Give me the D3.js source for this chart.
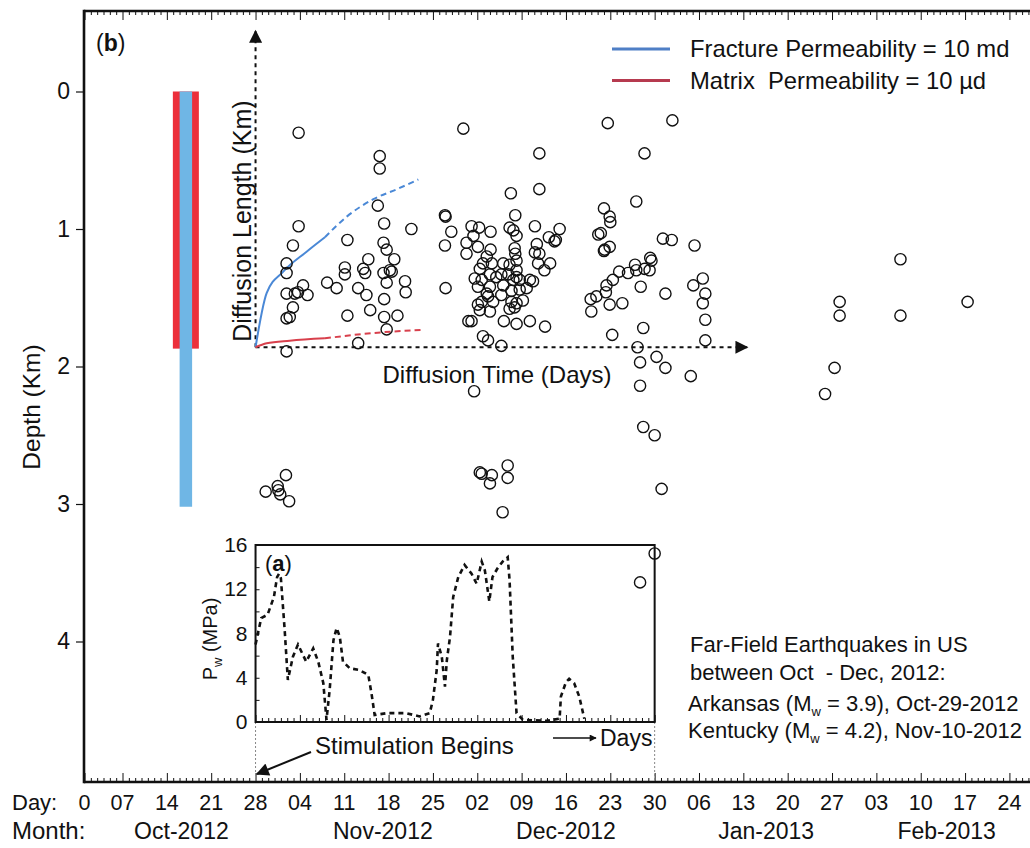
<!DOCTYPE html>
<html><head><meta charset="utf-8">
<script src="https://cdn.jsdelivr.net/npm/d3@7"></script>
<style>
body{margin:0;background:#fff;}
svg{display:block;}
text{font-family:"Liberation Sans", Arial, Helvetica, sans-serif; fill:#111;}
</style></head>
<body><svg id="chart" width="1030" height="848"></svg>
<script>
// ---------- DATA ----------
// Day axis: day index counted from Oct-1-2012
const dayTickDays   = [0,6,13,20,27,34,41,48,55,62,69,76,83,90,97,104,111,118,125,132,139,146];
const dayTickLabels = ["0","07","14","21","28","04","11","18","25","02","09","16","23","30","06","13","20","27","03","10","17","24"];
const monthLabels   = ["Oct-2012","Nov-2012","Dec-2012","Jan-2013","Feb-2013"];
const monthLabelDays= [15.3,47.1,76.0,107.6,136.1];
const depthTicks    = [0,1,2,3,4];
const pwTicks       = [0,4,8,12,16];

// well intervals (depth km)
const wellNames  = ["Matrix interval","Fracture interval"];
const wellTop    = [0,0];
const wellBottom = [1.87,3.02];

// microseismic events: day index and depth (km)
const quakeDay = [33.8,46.6,46.6,51.6,46.3,47.3,33.8,32.9,41.5,31.9,31.9,44.8,41.1,41.1,44.0,44.3,47.2,47.7,48.9,48.2,48.5,47.2,47.7,50.6,50.7,38.3,39.8,43.2,44.5,31.9,33.2,33.7,34.5,35.2,32.9,31.9,32.4,47.3,45.1,41.5,47.3,49.4,47.7,43.2,31.9,
59.8,82.6,71.8,88.4,67.3,71.8,87.1,56.9,57.0,57.9,56.9,57.0,68.0,61.1,62.3,61.4,60.3,62.1,60.3,64.1,67.1,67.7,68.2,71.1,71.4,73.3,74.2,75.0,74.4,71.1,71.8,71.6,73.5,72.6,67.9,68.0,64.1,63.5,62.9,64.3,62.4,66.1,67.1,68.2,68.2,61.6,62.7,64.0,65.0,65.8,66.9,68.2,70.3,70.8,66.1,67.7,68.7,64.0,62.1,65.8,67.4,68.7,69.8,63.5,63.7,62.7,62.1,64.5,67.4,68.2,69.2,67.9,67.1,62.4,64.0,61.1,66.2,68.2,70.3,72.7,62.9,63.7,65.8,60.6,
92.8,82.0,82.9,83.0,81.1,81.5,82.0,82.1,82.9,91.3,92.7,96.3,89.3,89.5,86.9,88.4,89.2,87.1,85.8,84.4,83.4,82.4,82.3,80.8,79.9,80.0,82.9,84.9,87.8,91.7,96.1,97.6,98.0,97.6,98.0,98.0,83.3,88.2,87.3,90.3,87.7,91.7,95.7,87.7,
119.2,119.2,118.4,116.9,128.8,128.8,139.4,61.5,88.2,90.0,91.1,31.8,28.6,30.5,30.6,30.9,32.3,62.4,62.7,64.3,64.0,66.8,66.8,66.0,87.7,90.0];
const quakeDepth = [0.30,0.47,0.56,1.00,0.83,0.96,0.98,1.12,1.08,1.25,1.32,1.22,1.28,1.33,1.29,1.32,1.10,1.15,1.22,1.30,1.31,1.32,1.39,1.38,1.46,1.39,1.43,1.43,1.48,1.47,1.47,1.46,1.41,1.48,1.57,1.65,1.64,1.51,1.59,1.63,1.64,1.63,1.73,1.83,1.89,
0.27,0.23,0.45,0.45,0.74,0.71,0.80,0.90,0.91,1.02,1.12,1.43,0.90,0.98,0.99,1.05,1.10,1.13,1.18,1.02,0.99,1.01,1.05,0.98,1.11,1.06,1.09,1.00,1.08,1.17,1.18,1.25,1.25,1.30,1.14,1.18,1.15,1.20,1.25,1.25,1.29,1.25,1.26,1.23,1.30,1.36,1.37,1.33,1.35,1.33,1.33,1.35,1.37,1.38,1.41,1.37,1.37,1.42,1.42,1.48,1.45,1.44,1.43,1.47,1.49,1.53,1.55,1.53,1.53,1.54,1.52,1.57,1.58,1.59,1.60,1.67,1.67,1.69,1.67,1.71,1.78,1.81,1.85,1.67,
0.21,0.85,0.91,0.95,1.04,1.03,1.16,1.15,1.13,1.07,1.08,1.12,1.21,1.23,1.26,1.29,1.30,1.30,1.32,1.31,1.37,1.41,1.46,1.49,1.51,1.60,1.55,1.54,1.42,1.47,1.41,1.36,1.47,1.54,1.66,1.81,1.77,1.72,1.86,1.93,1.97,2.01,2.07,2.14,
1.53,1.63,2.01,2.20,1.22,1.63,1.53,2.18,2.44,2.50,2.89,2.79,2.91,2.87,2.90,2.93,2.98,2.77,2.78,2.79,2.85,2.72,2.81,3.06,3.57,3.36];

// diffusion curves: time since stimulation (days), diffusion length (km)
const diffOriginDay = 27, diffOriginDepth = 1.86;
const fracSolidT  = [0,1.75,4.37,8.06,10.95];
const fracSolidL  = [0,0.393,0.55,0.695,0.80];
const fracDashT   = [10.95,14.4,18.6,22.3,25.7];
const fracDashL   = [0.80,0.95,1.077,1.149,1.22];
const matSolidT   = [0,1.75,5.4,10.95];
const matSolidL   = [0,0.029,0.048,0.065];
const matDashT    = [10.95,20.0,26.5];
const matDashL    = [0.065,0.109,0.126];

// injection pressure (inset a): day index and Pw (MPa)
const pwDay = [27.0,27.9,28.9,29.9,30.4,30.7,31.0,31.6,32.1,32.9,33.7,35.0,36.1,36.9,37.7,38.2,38.7,39.3,39.8,40.3,40.8,41.9,43.4,44.8,45.3,45.8,47.7,50.8,52.9,54.5,55.0,55.6,55.8,56.4,56.9,57.2,57.7,58.2,59.0,60.0,61.1,61.9,62.7,63.2,63.9,64.4,65.2,66.0,66.8,67.1,67.6,68.2,69.2,72.9,75.0,75.2,76.0,76.5,77.3,78.1,78.9];
const pwMPa = [7.0,9.4,9.7,11.3,13.1,13.4,13.0,8.3,3.8,5.9,7.0,5.45,6.66,5.45,3.5,0.2,2.9,7.4,8.5,7.7,5.45,4.85,4.7,4.25,2.6,0.63,0.8,0.8,0.5,0.8,2.0,4.7,7.1,5.9,3.2,5.6,7.7,11.3,13.1,14.2,13.4,12.5,14.5,13.7,10.9,13.1,13.9,14.5,14.9,12.8,5.9,0.8,0.2,0.1,0.3,2.3,3.6,3.9,3.5,2.3,0.3];
const insetDays = [27,90];

// ---------- CHART ----------
const svg = d3.select("#chart");
const x = d3.scaleLinear().domain([0,149.25]).range([84.5,1030]);
const y = d3.scaleLinear().domain([0,4]).range([91.5,641.5]);
const yTop = 11, yBot = 782, xLeft = 84;
const majorSet = new Set(dayTickDays);
const allDays = d3.range(0,150);
const minorDays = allDays.filter(d=>!majorSet.has(d));

const defs = svg.append("defs");
defs.append("marker").attr("id","arr").attr("viewBox","0 0 10 10").attr("refX",9).attr("refY",5)
  .attr("markerWidth",15).attr("markerHeight",13).attr("markerUnits","userSpaceOnUse").attr("orient","auto")
  .append("path").attr("d","M0,0 L10,5 L0,10 Z").attr("fill","#111");
defs.append("marker").attr("id","arrS").attr("viewBox","0 0 10 10").attr("refX",9).attr("refY",5)
  .attr("markerWidth",9).attr("markerHeight",7).attr("markerUnits","userSpaceOnUse").attr("orient","auto")
  .append("path").attr("d","M0,0 L10,5 L0,10 Z").attr("fill","#111");

// well bars
const wellColors = ["#ec2f3b","#6fb6e5"];
const wellWidths = [26,12.5];
const wellDay = 16;
svg.append("g").selectAll("rect").data(wellNames).join("rect")
  .attr("x",(d,i)=>x(wellDay)-wellWidths[i]/2).attr("width",(d,i)=>wellWidths[i])
  .attr("y",(d,i)=>y(wellTop[i])).attr("height",(d,i)=>y(wellBottom[i])-y(wellTop[i]))
  .attr("fill",(d,i)=>wellColors[i]);

// frame & axes
function tickAxis(axisFn, yPos, values, size){
  svg.append("g").attr("transform",`translate(0,${yPos})`)
    .call(axisFn(x).tickValues(values).tickSize(size).tickFormat(""))
    .call(g=>g.select(".domain").remove())
    .selectAll("line").attr("stroke","#111").attr("stroke-width",1);
}
tickAxis(d3.axisBottom, yTop, minorDays, 4);
tickAxis(d3.axisBottom, yTop, dayTickDays, 9);
tickAxis(d3.axisTop, yBot, minorDays, 4);
tickAxis(d3.axisTop, yBot, dayTickDays, 9);
svg.append("line").attr("x1",xLeft).attr("x2",1030).attr("y1",yTop).attr("y2",yTop).attr("stroke","#111").attr("stroke-width",2.4);
svg.append("line").attr("x1",xLeft).attr("x2",1030).attr("y1",yBot).attr("y2",yBot).attr("stroke","#111").attr("stroke-width",2.4);
svg.append("line").attr("x1",xLeft).attr("x2",xLeft).attr("y1",yTop-1.2).attr("y2",yBot+1.2).attr("stroke","#111").attr("stroke-width",2.6);

const yAx = svg.append("g").attr("transform",`translate(${xLeft},0)`)
  .call(d3.axisLeft(y).tickValues(depthTicks).tickSize(8).tickPadding(6).tickFormat(d3.format("d")));
yAx.select(".domain").remove();
yAx.attr("font-family",null).attr("font-size",23);
yAx.selectAll("line").attr("stroke","#111").attr("stroke-width",1.2);
yAx.selectAll("text").attr("fill","#111");

svg.append("text").attr("transform","translate(40,407) rotate(-90)").attr("text-anchor","middle")
  .attr("font-size",24.5).text("Depth (Km)");

// day / month labels
svg.append("g").selectAll("text").data(dayTickDays).join("text")
  .attr("x",d=>x(d)).attr("y",810).attr("text-anchor","middle").attr("font-size",21.5)
  .text((d,i)=>dayTickLabels[i]);
svg.append("text").attr("x",12).attr("y",810).attr("font-size",22).text("Day:");
svg.append("g").selectAll("text").data(monthLabelDays).join("text")
  .attr("x",d=>x(d)).attr("y",839).attr("text-anchor","middle").attr("font-size",23)
  .text((d,i)=>monthLabels[i]);
svg.append("text").attr("x",12).attr("y",839).attr("font-size",24).text("Month:");

// (b)
const bl = svg.append("text").attr("x",96).attr("y",51).attr("font-size",23);
bl.append("tspan").text("(");
bl.append("tspan").attr("font-weight","bold").text("b");
bl.append("tspan").text(")");

// diffusion axes
const ox = x(diffOriginDay), oy = y(diffOriginDepth);
svg.append("line").attr("x1",ox).attr("y1",oy).attr("x2",ox).attr("y2",y(-0.44))
  .attr("stroke","#111").attr("stroke-width",2).attr("stroke-dasharray","4,4").attr("marker-end","url(#arr)");
svg.append("line").attr("x1",ox).attr("y1",oy).attr("x2",x(104.6)).attr("y2",oy)
  .attr("stroke","#111").attr("stroke-width",2).attr("stroke-dasharray","4,4").attr("marker-end","url(#arr)");
svg.append("text").attr("transform",`translate(251,${(y(-0.44)+oy)/2+32}) rotate(-90)`).attr("text-anchor","middle")
  .attr("font-size",25).text("Diffusion Length (Km)");
svg.append("text").attr("x",497).attr("y",383).attr("text-anchor","middle").attr("font-size",24).text("Diffusion Time (Days)");

// diffusion curves
const dline = d3.line().x(d=>x(diffOriginDay+d[0])).y(d=>y(diffOriginDepth-d[1])).curve(d3.curveMonotoneX);
const zip = (a,b)=>a.map((v,i)=>[v,b[i]]);
const fracColor = "#4a88d6", matColor = "#d8404c";
svg.append("path").attr("d",dline(zip(fracSolidT,fracSolidL))).attr("fill","none").attr("stroke",fracColor).attr("stroke-width",2);
svg.append("path").attr("d",dline(zip(fracDashT,fracDashL))).attr("fill","none").attr("stroke",fracColor).attr("stroke-width",2).attr("stroke-dasharray","6,4");
svg.append("path").attr("d",dline(zip(matSolidT,matSolidL))).attr("fill","none").attr("stroke",matColor).attr("stroke-width",2);
svg.append("path").attr("d",dline(zip(matDashT,matDashL))).attr("fill","none").attr("stroke",matColor).attr("stroke-width",2).attr("stroke-dasharray","6,4");

// legend
const legNames = ["Fracture Permeability = 10 md","Matrix  Permeability = 10 \u00B5d"];
const legColors = ["#4f7fc6","#b63a4f"];
const leg = svg.append("g").selectAll("g").data(legNames).join("g")
  .attr("transform",(d,i)=>`translate(0,${49+i*31.5})`);
leg.append("line").attr("x1",612).attr("x2",670).attr("y1",0).attr("y2",0).attr("stroke",(d,i)=>legColors[i]).attr("stroke-width",3);
leg.append("text").attr("x",690).attr("y",8).attr("font-size",23.8).style("white-space","pre").text(d=>d);

// ---------- INSET (a) ----------
const yi = d3.scaleLinear().domain([0,16]).range([722,545]);
const ix0 = x(insetDays[0]), ix1 = x(insetDays[1]);
[ix0, ix1].forEach(gx=>{
  svg.append("line").attr("x1",gx).attr("x2",gx).attr("y1",722).attr("y2",yBot)
    .attr("stroke","#888").attr("stroke-width",1).attr("stroke-dasharray","2,2");
});
svg.append("rect").attr("x",ix0).attr("y",yi(16)).attr("width",ix1-ix0).attr("height",yi(0)-yi(16))
  .attr("fill","#fff").attr("stroke","none");
const insetDaysAll = d3.range(insetDays[0],insetDays[1]+1);
svg.append("g").attr("transform",`translate(0,${yi(0)})`)
  .call(d3.axisTop(x).tickValues(insetDaysAll.filter(d=>!majorSet.has(d))).tickSize(4).tickFormat(""))
  .call(g=>g.select(".domain").remove()).selectAll("line").attr("stroke","#111");
svg.append("g").attr("transform",`translate(0,${yi(0)})`)
  .call(d3.axisTop(x).tickValues(insetDaysAll.filter(d=>majorSet.has(d))).tickSize(7).tickFormat(""))
  .call(g=>g.select(".domain").remove()).selectAll("line").attr("stroke","#111");
svg.append("g").attr("transform",`translate(${ix0},0)`)
  .call(d3.axisRight(yi).tickValues(d3.range(0,17,2)).tickSize(4).tickFormat(""))
  .call(g=>g.select(".domain").remove()).selectAll("line").attr("stroke","#111");
const yiAx = svg.append("g").attr("transform",`translate(${ix0},0)`)
  .call(d3.axisLeft(yi).tickValues(pwTicks).tickSize(0).tickPadding(8));
yiAx.select(".domain").remove();
yiAx.attr("font-family",null).attr("font-size",21);
yiAx.selectAll("text").attr("fill","#111");
svg.append("rect").attr("x",ix0).attr("y",yi(16)).attr("width",ix1-ix0).attr("height",yi(0)-yi(16))
  .attr("fill","none").attr("stroke","#111").attr("stroke-width",2);
const pwLine = d3.line().x(d=>x(d[0])).y(d=>yi(d[1]));
svg.append("path").attr("d",pwLine(zip(pwDay,pwMPa))).attr("fill","none").attr("stroke","#111")
  .attr("stroke-width",2.6).attr("stroke-dasharray","5,4");
const al = svg.append("text").attr("x",265).attr("y",571).attr("font-size",22);
al.append("tspan").text("(");
al.append("tspan").attr("font-weight","bold").text("a");
al.append("tspan").text(")");
const pl = svg.append("text").attr("transform","translate(217,639) rotate(-90)").attr("text-anchor","middle").attr("font-size",20);
pl.append("tspan").text("P");
pl.append("tspan").attr("font-size",13).attr("dy",5).text("w");
pl.append("tspan").attr("dy",-5).text(" (MPa)");

svg.append("line").attr("x1",553).attr("x2",596).attr("y1",738).attr("y2",738).attr("stroke","#111").attr("stroke-width",1.3).attr("marker-end","url(#arrS)");
svg.append("text").attr("x",600).attr("y",746).attr("font-size",23).text("Days");
svg.append("text").attr("x",315).attr("y",754).attr("font-size",24).text("Stimulation Begins");
svg.append("line").attr("x1",311).attr("y1",752).attr("x2",257).attr("y2",774).attr("stroke","#111").attr("stroke-width",2).attr("marker-end","url(#arr)");

// far-field note
svg.append("text").attr("x",690).attr("y",652).attr("font-size",22).text("Far-Field Earthquakes in US");
svg.append("text").attr("x",690).attr("y",680).attr("font-size",22).style("white-space","pre").text("between Oct  - Dec, 2012:");
const eqNames = ["Arkansas","Kentucky"], eqMw = ["3.9","4.2"], eqDates = ["Oct-29-2012","Nov-10-2012"];
eqNames.forEach((n,i)=>{
  const t = svg.append("text").attr("x",688).attr("y",711+i*27).attr("font-size",22);
  t.append("tspan").text(n+" (M");
  t.append("tspan").attr("font-size",13).attr("dy",5).text("w");
  t.append("tspan").attr("dy",-5).text(" = "+eqMw[i]+"), "+eqDates[i]);
});

// scatter (on top)
svg.append("g").selectAll("circle").data(quakeDay).join("circle")
  .attr("cx",d=>x(d)).attr("cy",(d,i)=>y(quakeDepth[i])).attr("r",5.6)
  .attr("fill","none").attr("stroke","#111").attr("stroke-width",1.4);
</script>
</body></html>
